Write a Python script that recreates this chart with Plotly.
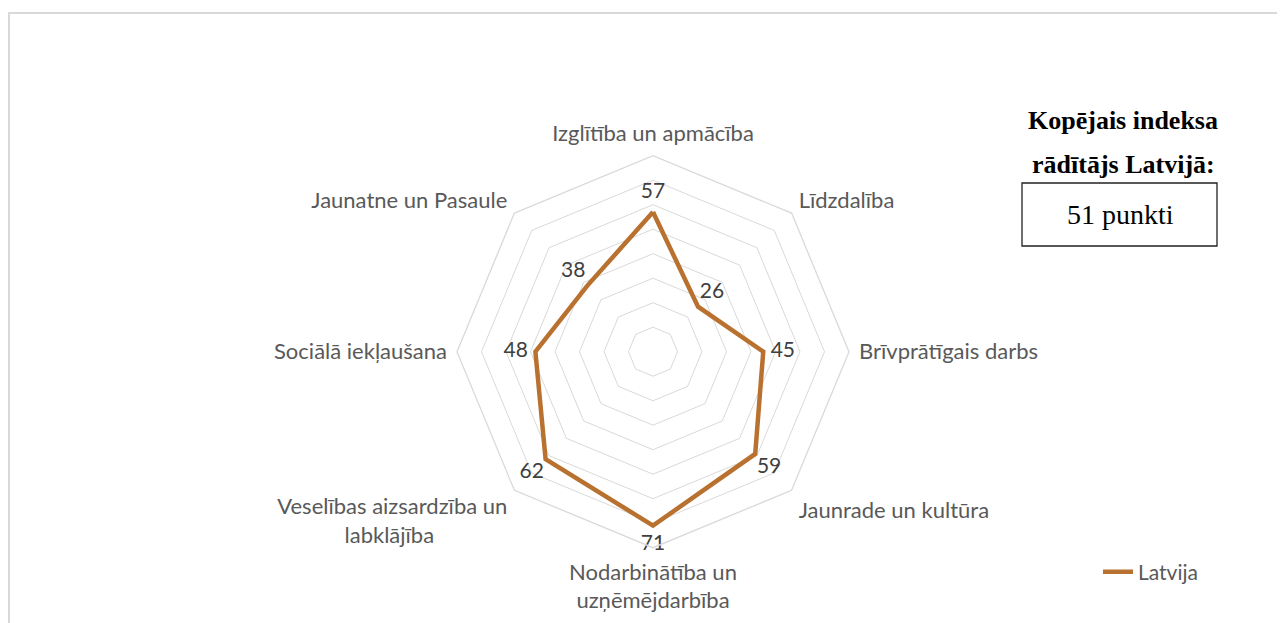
import plotly.graph_objects as go

categories = [
    "Izglītība un apmācība",
    "Līdzdalība",
    "Brīvprātīgais darbs",
    "Jaunrade un kultūra",
    "Nodarbinātība un<br>uzņēmējdarbība",
    "Veselības aizsardzība un<br>labklājība" + "\u00a0" * 13,
    "Sociālā iekļaušana",
    "Jaunatne un Pasaule",
]
values = [57, 26, 45, 59, 71, 62, 48, 38]
series_name = "Latvija"
total_title_1 = "Kopējais indeksa"
total_title_2 = "rādītājs Latvijā:"
total_value = "51 punkti"

# page body has an 8px margin: figure coordinates are screen coords minus 8
OFF = 8
W, H = 1285 - OFF, 623 - OFF


def px(x):
    return (x - OFF) / W


def py(y):
    return (H - (y - OFF)) / H


cx, cy, R = 653, 351.7, 196
line_color = "#B8712F"
grid_color = "#D9D9D9"
label_color = "#595959"
sans = "Lato, Open Sans, sans-serif"
serif = "Liberation Serif, Times New Roman, serif"

fig = go.Figure()
fig.add_trace(go.Scatterpolar(
    r=values + [values[0]],
    theta=categories + [categories[0]],
    mode="lines",
    line=dict(color=line_color, width=4.5),
    name=series_name,
    hoverinfo="skip",
))
fig.add_trace(go.Scatterpolar(
    r=[v + 8 for v in values],
    theta=categories,
    mode="text",
    text=[str(v) for v in values],
    textfont=dict(family=sans, size=21, color="#404040"),
    textposition="middle center",
    showlegend=False,
    hoverinfo="skip",
))

fig.update_layout(
    width=W, height=H,
    margin=dict(l=0, r=0, t=0, b=0),
    paper_bgcolor="white",
    plot_bgcolor="white",
    font=dict(family=sans),
    polar=dict(
        domain=dict(x=[px(cx - R), px(cx + R)],
                    y=[py(cy + R), py(cy - R)]),
        gridshape="linear",
        bgcolor="white",
        radialaxis=dict(range=[0, 80], dtick=10, showticklabels=False, ticks="",
                        showline=False, gridcolor=grid_color, gridwidth=1.3),
        angularaxis=dict(direction="clockwise", rotation=90, showgrid=False,
                         linecolor=grid_color, linewidth=1.3,
                         ticks="outside", ticklen=5, tickcolor="rgba(0,0,0,0)",
                         tickfont=dict(size=22, color=label_color, family=sans)),
    ),
    showlegend=True,
    legend=dict(x=px(1098), y=py(572), xanchor="left", yanchor="middle",
                font=dict(size=21, color=label_color), bgcolor="rgba(0,0,0,0)"),
    shapes=[
        dict(type="rect", xref="paper", yref="paper",
             x0=px(9), x1=1.01, y0=-0.05, y1=py(13),
             line=dict(color="#D9D9D9", width=2), fillcolor="rgba(0,0,0,0)"),
        dict(type="rect", xref="paper", yref="paper",
             x0=px(1022), x1=px(1217), y0=py(246), y1=py(183),
             line=dict(color="#222222", width=1.3), fillcolor="rgba(0,0,0,0)"),
    ],
    annotations=[
        dict(text="<b>" + total_title_1 + "</b>", x=px(1123), y=py(120),
             xref="paper", yref="paper", showarrow=False, xanchor="center", yanchor="middle",
             font=dict(family=serif, size=26, color="black")),
        dict(text="<b>" + total_title_2 + "</b>", x=px(1123), y=py(164),
             xref="paper", yref="paper", showarrow=False, xanchor="center", yanchor="middle",
             font=dict(family=serif, size=26, color="black")),
        dict(text=total_value, x=px(1120), y=py(215),
             xref="paper", yref="paper", showarrow=False, xanchor="center", yanchor="middle",
             font=dict(family=serif, size=28, color="black")),
    ],
)

fig.write_html("out.html")
